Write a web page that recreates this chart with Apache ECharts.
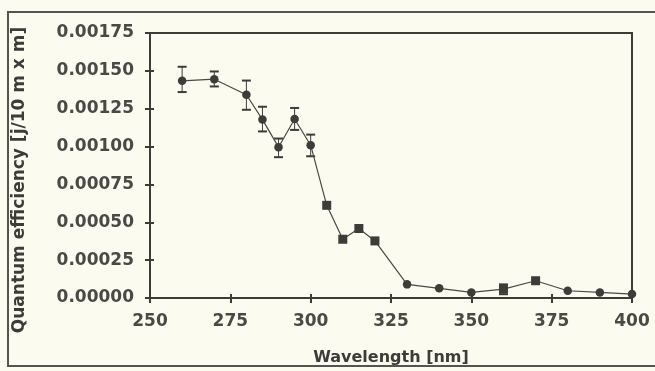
<!DOCTYPE html>
<html>
<head>
<meta charset="utf-8">
<script src="https://cdn.jsdelivr.net/npm/echarts@6/dist/echarts.min.js"></script>
<style>
  html, body { margin: 0; padding: 0; background: #fbfbef; }
  #chart { width: 655px; height: 371px; }
</style>
</head>
<body>
<div id="chart"></div>
<script>
// Quantum efficiency spectrum
const wavelengths = [260, 270, 280, 285, 290, 295, 300, 305, 310, 315, 320, 330, 340, 350, 360, 370, 380, 390, 400];
const efficiency = [0.001434, 0.001445, 0.001342, 0.001178, 0.000996, 0.001182, 0.001009, 0.000612, 0.000388, 0.000459, 0.000377, 0.00009, 0.000064, 0.000037, 0.000059, 0.000114, 0.000048, 0.000037, 0.000026];
// Error bar limits (null where no bar is drawn)
const errLow  = [0.00136, 0.001397, 0.001243, 0.0011, 0.00093, 0.00111, 0.000936, null, null, null, null, null, null, null, 0.000025, null, null, null, null];
const errHigh = [0.001527, 0.001496, 0.001436, 0.001263, 0.001053, 0.001255, 0.001079, null, null, null, null, null, null, null, 0.00009, null, null, null, null];
// Points plotted with square markers
const squareMarks = [305, 310, 315, 320, 360, 370];
const xTicks = { min: 250, max: 400, step: 25 };
const yTicks = { min: 0, max: 0.00175, step: 0.00025 };
const xTitle = 'Wavelength [nm]';
const yTitle = 'Quantum efficiency [j/10 m x m]';

const ink = '#3c3c38';
const labelInk = '#4a4a45';
const font = 'DejaVu Sans';

const chart = echarts.init(document.getElementById('chart'));

const baseX = {
  type: 'value', min: xTicks.min, max: xTicks.max, interval: xTicks.step,
  splitLine: { show: false },
  axisLine: { show: true, onZero: false, lineStyle: { color: ink, width: 2 } }
};
const baseY = {
  type: 'value', min: yTicks.min, max: yTicks.max, interval: yTicks.step,
  splitLine: { show: false },
  axisLine: { show: true, onZero: false, lineStyle: { color: ink, width: 2 } }
};

chart.setOption({
  backgroundColor: '#fbfbef',
  animation: false,
  grid: { left: 150, right: 23, top: 33, bottom: 72, show: true, borderColor: ink, borderWidth: 2 },
  graphic: [
    { type: 'rect', shape: { x: 8, y: 12, width: 700, height: 354 },
      style: { fill: 'none', stroke: '#55554f', lineWidth: 2 }, z: 0 },
    { type: 'text', x: 20, y: 180, rotation: Math.PI / 2,
      style: { text: yTitle, font: 'bold 17px "DejaVu Sans"', fill: ink, align: 'center', verticalAlign: 'middle' } }
  ],
  xAxis: [
    Object.assign({}, baseX, {
      position: 'bottom',
      name: xTitle, nameLocation: 'middle', nameGap: 52,
      nameTextStyle: { fontFamily: font, fontWeight: 'bold', fontSize: 16, color: ink },
      axisTick: { show: true, inside: false, length: 5, lineStyle: { color: ink, width: 2 } },
      axisLabel: { margin: 15, fontFamily: font, fontWeight: 'bold', fontSize: 17, color: labelInk }
    }),
    Object.assign({}, baseX, {
      position: 'bottom',
      axisTick: { show: true, inside: true, length: 4, lineStyle: { color: ink, width: 2 } },
      axisLabel: { show: false }
    })
  ],
  yAxis: [
    Object.assign({}, baseY, {
      position: 'left',
      axisTick: { show: true, inside: false, length: 5, lineStyle: { color: ink, width: 2 } },
      axisLabel: { margin: 16, fontFamily: font, fontWeight: 'bold', fontSize: 17, color: labelInk,
                   formatter: v => v.toFixed(5) }
    }),
    Object.assign({}, baseY, {
      position: 'left',
      axisTick: { show: true, inside: true, length: 4, lineStyle: { color: ink, width: 2 } },
      axisLabel: { show: false }
    })
  ],
  series: [
    {
      type: 'custom',
      name: 'error',
      xAxisIndex: 0, yAxisIndex: 0,
      data: wavelengths.map((w, i) => [w, errLow[i], errHigh[i]]).filter(d => d[1] != null),
      renderItem: function (params, api) {
        const lo = api.coord([api.value(0), api.value(1)]);
        const hi = api.coord([api.value(0), api.value(2)]);
        const hw = 4.5;
        const style = { stroke: ink, lineWidth: 2 };
        return {
          type: 'group',
          children: [
            { type: 'line', shape: { x1: lo[0], y1: lo[1], x2: hi[0], y2: hi[1] }, style: { stroke: ink, lineWidth: 1 } },
            { type: 'line', shape: { x1: lo[0] - hw, y1: lo[1], x2: lo[0] + hw, y2: lo[1] }, style: style },
            { type: 'line', shape: { x1: hi[0] - hw, y1: hi[1], x2: hi[0] + hw, y2: hi[1] }, style: style }
          ]
        };
      },
      z: 3
    },
    {
      type: 'line',
      xAxisIndex: 0, yAxisIndex: 0,
      data: wavelengths.map((w, i) => ({
        value: [w, efficiency[i]],
        symbol: squareMarks.includes(w) ? 'rect' : 'circle',
        symbolSize: squareMarks.includes(w) ? 9 : 8.5
      })),
      showSymbol: true,
      lineStyle: { color: '#4a4a45', width: 1.2 },
      itemStyle: { color: ink, borderWidth: 0 },
      z: 4
    }
  ]
});
</script>
</body>
</html>
